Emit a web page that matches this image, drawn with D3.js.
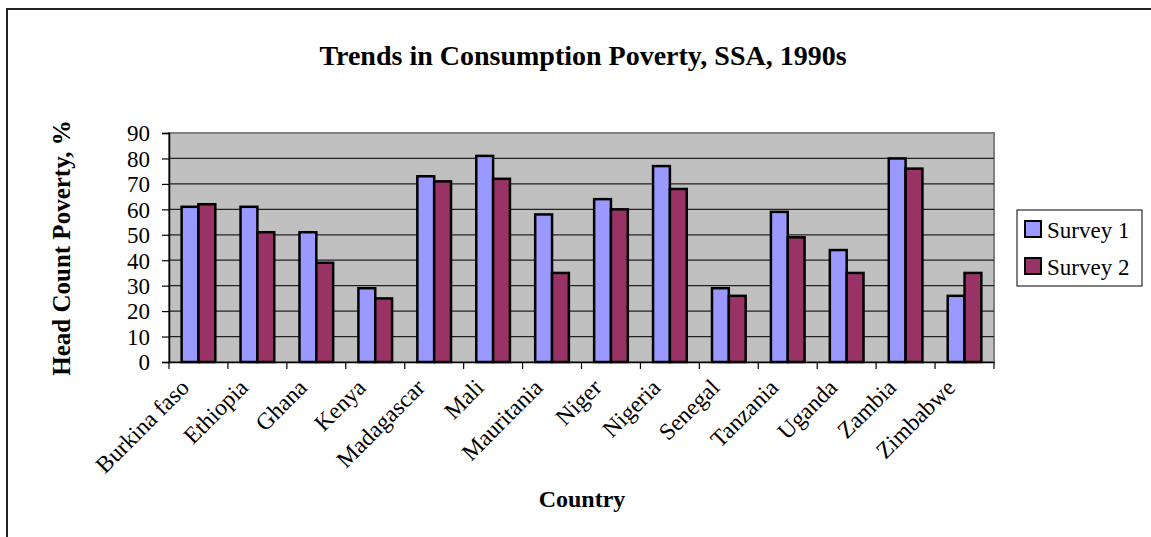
<!DOCTYPE html>
<html><head><meta charset="utf-8">
<script src="https://cdn.jsdelivr.net/npm/d3@7"></script>
<style>
html,body{margin:0;padding:0;background:#fff;}
svg{display:block;font-family:"Liberation Serif","Times New Roman",serif;}
</style></head>
<body>
<svg id="chart" width="1151" height="537"></svg>
<script>
const categories = ["Burkina faso","Ethiopia","Ghana","Kenya","Madagascar","Mali","Mauritania","Niger","Nigeria","Senegal","Tanzania","Uganda","Zambia","Zimbabwe"];
const survey1 = [61,61,51,29,73,81,58,64,77,29,59,44,80,26];
const survey2 = [62,51,39,25,71,72,35,60,68,26,49,35,76,35];
const seriesNames = ["Survey 1","Survey 2"];
const seriesColors = ["#9999FF","#993366"];
const yTicks = [0,10,20,30,40,50,60,70,80,90];

const svg = d3.select("#chart");
const plot = {left:169, top:133, right:994, bottom:362};
const FONT = "Liberation Serif";

// outer frame
svg.append("rect").attr("x",7).attr("y",9).attr("width",1160).attr("height",540)
  .attr("fill","none").attr("stroke","#222").attr("stroke-width",2);

const x0 = d3.scaleBand().domain(categories).range([plot.left, plot.right]).paddingInner(0).paddingOuter(0);
const y = d3.scaleLinear().domain([0,90]).range([plot.bottom, plot.top]);
const step = x0.bandwidth();
const barW = step/3.5;
const x1 = d3.scaleBand().domain(seriesNames).range([0, 2*barW]);

// plot background
svg.append("rect").attr("x",plot.left).attr("y",plot.top)
  .attr("width",plot.right-plot.left).attr("height",plot.bottom-plot.top)
  .attr("fill","#C0C0C0").attr("stroke","#808080").attr("stroke-width",2);

// gridlines
svg.append("g").selectAll("line").data(yTicks.filter(d=>d>0 && d<90)).join("line")
  .attr("x1",plot.left).attr("x2",plot.right)
  .attr("y1",d=>y(d)).attr("y2",d=>y(d))
  .attr("stroke","#222").attr("stroke-width",1.2);

// bars
const data = categories.map((c,i)=>({c, vals:[survey1[i],survey2[i]]}));
const groups = svg.append("g").selectAll("g").data(data).join("g")
  .attr("transform",d=>`translate(${x0(d.c) + (step-2*barW)/2},0)`);
groups.selectAll("rect").data(d=>d.vals.map((v,j)=>({v,s:seriesNames[j],j}))).join("rect")
  .attr("x",d=>x1(d.s)).attr("width",barW)
  .attr("y",d=>y(d.v)).attr("height",d=>y(0)-y(d.v))
  .attr("fill",d=>seriesColors[d.j]).attr("stroke","#000").attr("stroke-width",2.5);

// y axis
const yAxis = d3.axisLeft(y).tickValues(yTicks).tickSize(7).tickPadding(12);
const gy = svg.append("g").attr("transform",`translate(${plot.left},0)`).call(yAxis);
gy.attr("font-family",FONT).attr("font-size",23);
gy.select(".domain").attr("stroke","#000").attr("stroke-width",1.5);
gy.selectAll(".tick line").attr("stroke","#000").attr("stroke-width",1.2);
gy.selectAll(".tick text").attr("fill","#000").attr("dy","0.34em");

// x axis
const xAxis = d3.axisBottom(x0).tickSize(0).tickFormat("");
const gx = svg.append("g").attr("transform",`translate(0,${plot.bottom})`).call(xAxis);
gx.select(".domain").attr("stroke","#000").attr("stroke-width",1.5);
const bounds = categories.map(c=>x0(c)).concat([plot.right]);
gx.selectAll("line.bt").data(bounds).join("line").attr("class","bt")
  .attr("x1",d=>d).attr("x2",d=>d).attr("y1",0).attr("y2",7)
  .attr("stroke","#000").attr("stroke-width",1.2);
svg.append("g").selectAll("text").data(categories).join("text")
  .attr("transform",c=>`translate(${x0(c)+step/2-8},${plot.bottom+27}) rotate(-45)`)
  .attr("text-anchor","end").attr("font-size",23.5).attr("fill","#000")
  .text(c=>c);

// titles
svg.append("text").attr("x",583).attr("y",65).attr("text-anchor","middle")
  .attr("font-size",28).attr("font-weight","bold").text("Trends in Consumption Poverty, SSA, 1990s");
svg.append("text").attr("x",582).attr("y",507).attr("text-anchor","middle")
  .attr("font-size",24).attr("font-weight","bold").text("Country");
svg.append("text").attr("transform","translate(70,248) rotate(-90)").attr("text-anchor","middle")
  .attr("font-size",25).attr("font-weight","bold").text("Head Count Poverty, %");

// legend
const lg = svg.append("g").attr("transform","translate(1017,210)");
lg.append("rect").attr("width",125).attr("height",76).attr("fill","#fff").attr("stroke","#000").attr("stroke-width",1);
seriesNames.forEach((s,i)=>{
  lg.append("rect").attr("x",8).attr("y",11+i*37).attr("width",16).attr("height",16)
    .attr("fill",seriesColors[i]).attr("stroke","#000").attr("stroke-width",2);
  lg.append("text").attr("x",30).attr("y",28+i*37).attr("font-size",23).text(s);
});
</script>
</body></html>
